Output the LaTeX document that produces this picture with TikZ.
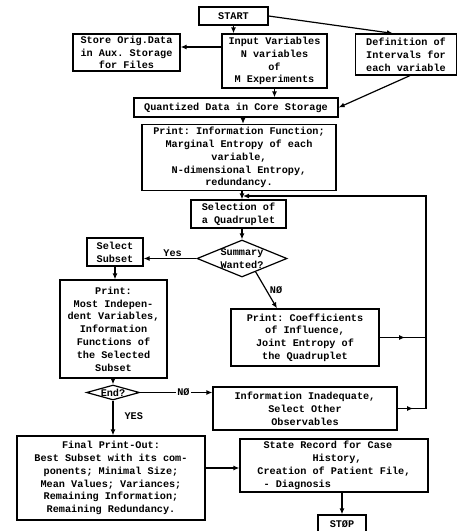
\documentclass[tikz,border=0pt]{standalone}
\usepackage{fontspec}
\setmainfont{Liberation Mono}
\frenchspacing
\usetikzlibrary{arrows.meta,shapes.geometric,calc,decorations.markings}
\begin{document}
\begin{tikzpicture}[x=1pt,y=-1pt,
  every node/.style={font=\fontsize{10.2}{12.8}\selectfont\bfseries},
  box/.style={draw,line width=1.2pt,inner sep=1pt,align=center,minimum width=#1},
  dia/.style={draw,line width=1.2pt,diamond,inner sep=0pt,align=center},
  conn/.style={line width=1.2pt},
  arr/.style={line width=1.2pt,-{Latex[length=6pt,width=5pt]}},
  midarr/.style={line width=1.2pt,postaction={decorate},
    decoration={markings,mark=at position 0.55 with {\arrow{Latex[length=6pt,width=5pt]}}}},
  lbl/.style={inner sep=1pt}
]
\useasboundingbox (0,0) rectangle (457,531);
\node[box=69pt,minimum height=18pt] (start) at (233.5,16) {START};
\node[box=107pt,minimum height=37pt] (store) at (126.5,52.5) {Store Orig.Data\\in Aux. Storage\\for Files};
\node[box=105pt,minimum height=54pt] (input) at (274.5,61) {Input Variables\\N variables\\of\\M Experiments};
\node[box=101pt,minimum height=41pt] (def) at (406,54.5) {Definition of\\Intervals for\\each variable};
\node[box=204pt,minimum height=19pt] (quant) at (236,107.5) {Quantized Data in Core Storage};
\node[box=194pt,minimum height=66pt] (pinfo) at (239,157.5) {Print: Information Function;\\Marginal Entropy of each\\variable,\\N-dimensional Entropy,\\redundancy.};
\node[box=95pt,minimum height=28pt] (sel) at (238.5,214) {Selection of\\a Quadruplet};
\node[dia,minimum width=90pt,minimum height=37pt] (summ) at (242,258.5) {};
\node[lbl,align=center] (summtxt) at (242,258.5) {Summary\\Wanted?};
\node[box=56pt,minimum height=28pt] (selsub) at (115,252) {Select\\Subset};
\node[box=148pt,minimum height=57pt] (coef) at (305,337.5) {Print: Coefficients\\of Influence,\\Joint Entropy of\\the Quadruplet};
\node[box=107pt,minimum height=98pt] (pmost) at (113.5,329) {Print:\\Most Indepen-\\dent Variables,\\Information\\Functions of\\the Selected\\Subset};
\node[dia,minimum width=53pt,minimum height=15pt] (endd) at (113,392.5) {};
\node[lbl] (endtxt) at (113,392.5) {End?};
\node[box=184pt,minimum height=43pt] (info) at (305,408.5) {Information Inadequate,\\Select Other\\Observables};
\node[box=188pt,minimum height=84pt] (final) at (111,478) {Final Print-Out:\\Best Subset with its com-\\ponents; Minimal Size;\\Mean Values; Variances;\\Remaining Information;\\Remaining Redundancy.};
\node[box=188pt,minimum height=53pt,align=left] (state) at (334,465.5) {\phantom{x}State Record for Case\\\phantom{xxxxxxxxx}History,\\Creation of Patient File,\\\phantom{x}- Diagnosis};
\node[box=48pt,minimum height=18pt] (stop) at (342,524) {STØP};
% helper coordinates
\coordinate (y47) at (0,47);
\coordinate (x243) at (243,0);
\coordinate (x277) at (277,0);
\coordinate (y468) at (0,468);
\coordinate (lt) at (426,196);
% connectors
\draw[arr] (start.south) -- (start.south |- input.north);
\draw[arr] (start.east) -- ([xshift=-13pt]def.north);
\draw[arr] (input.west |- y47) -- (store.east |- y47);
\draw[arr] (input.south) -- (input.south |- quant.north);
\draw[arr] ([xshift=4pt]def.south) -- (quant.east);
\draw[arr] (x243 |- quant.south) -- (x243 |- pinfo.north);
\draw[arr] (summ.north |- pinfo.south) -- (summ.north |- sel.north);
\draw[arr] (summ.north |- sel.south) -- (summ.north);
\draw[arr] (summ.west) -- node[lbl,above,pos=0.45] (yes) {Yes} (summ.west -| selsub.east);
\draw[arr] ($(summ.south)!0.3!(summ.east)$) -- node[lbl,right,pos=0.5,xshift=2pt] (no1) {NØ} (x277 |- coef.north);
\draw[midarr] (coef.east) -- (coef.east -| lt);
\draw[midarr] (info.east) -- (info.east -| lt);
\draw[arr] (info.east -| lt) -- (lt) -- (lt -| x243);
\draw[arr] (selsub.south) -- (selsub.south |- pmost.north);
\draw[arr] (endd.north |- pmost.south) -- (endd.north);
\draw[arr] (endd.east) -- node[lbl,fill=white,pos=0.6] (no2) {NØ} (endd.east -| info.west);
\draw[arr] (endd.south) -- node[lbl,right,pos=0.45,xshift=10pt] (yes2) {YES} (endd.south |- final.north);
\draw[arr] (final.east |- y468) -- (state.west |- y468);
\draw[arr] (stop.north |- state.south) -- (stop.north);
\end{tikzpicture}
\end{document}
